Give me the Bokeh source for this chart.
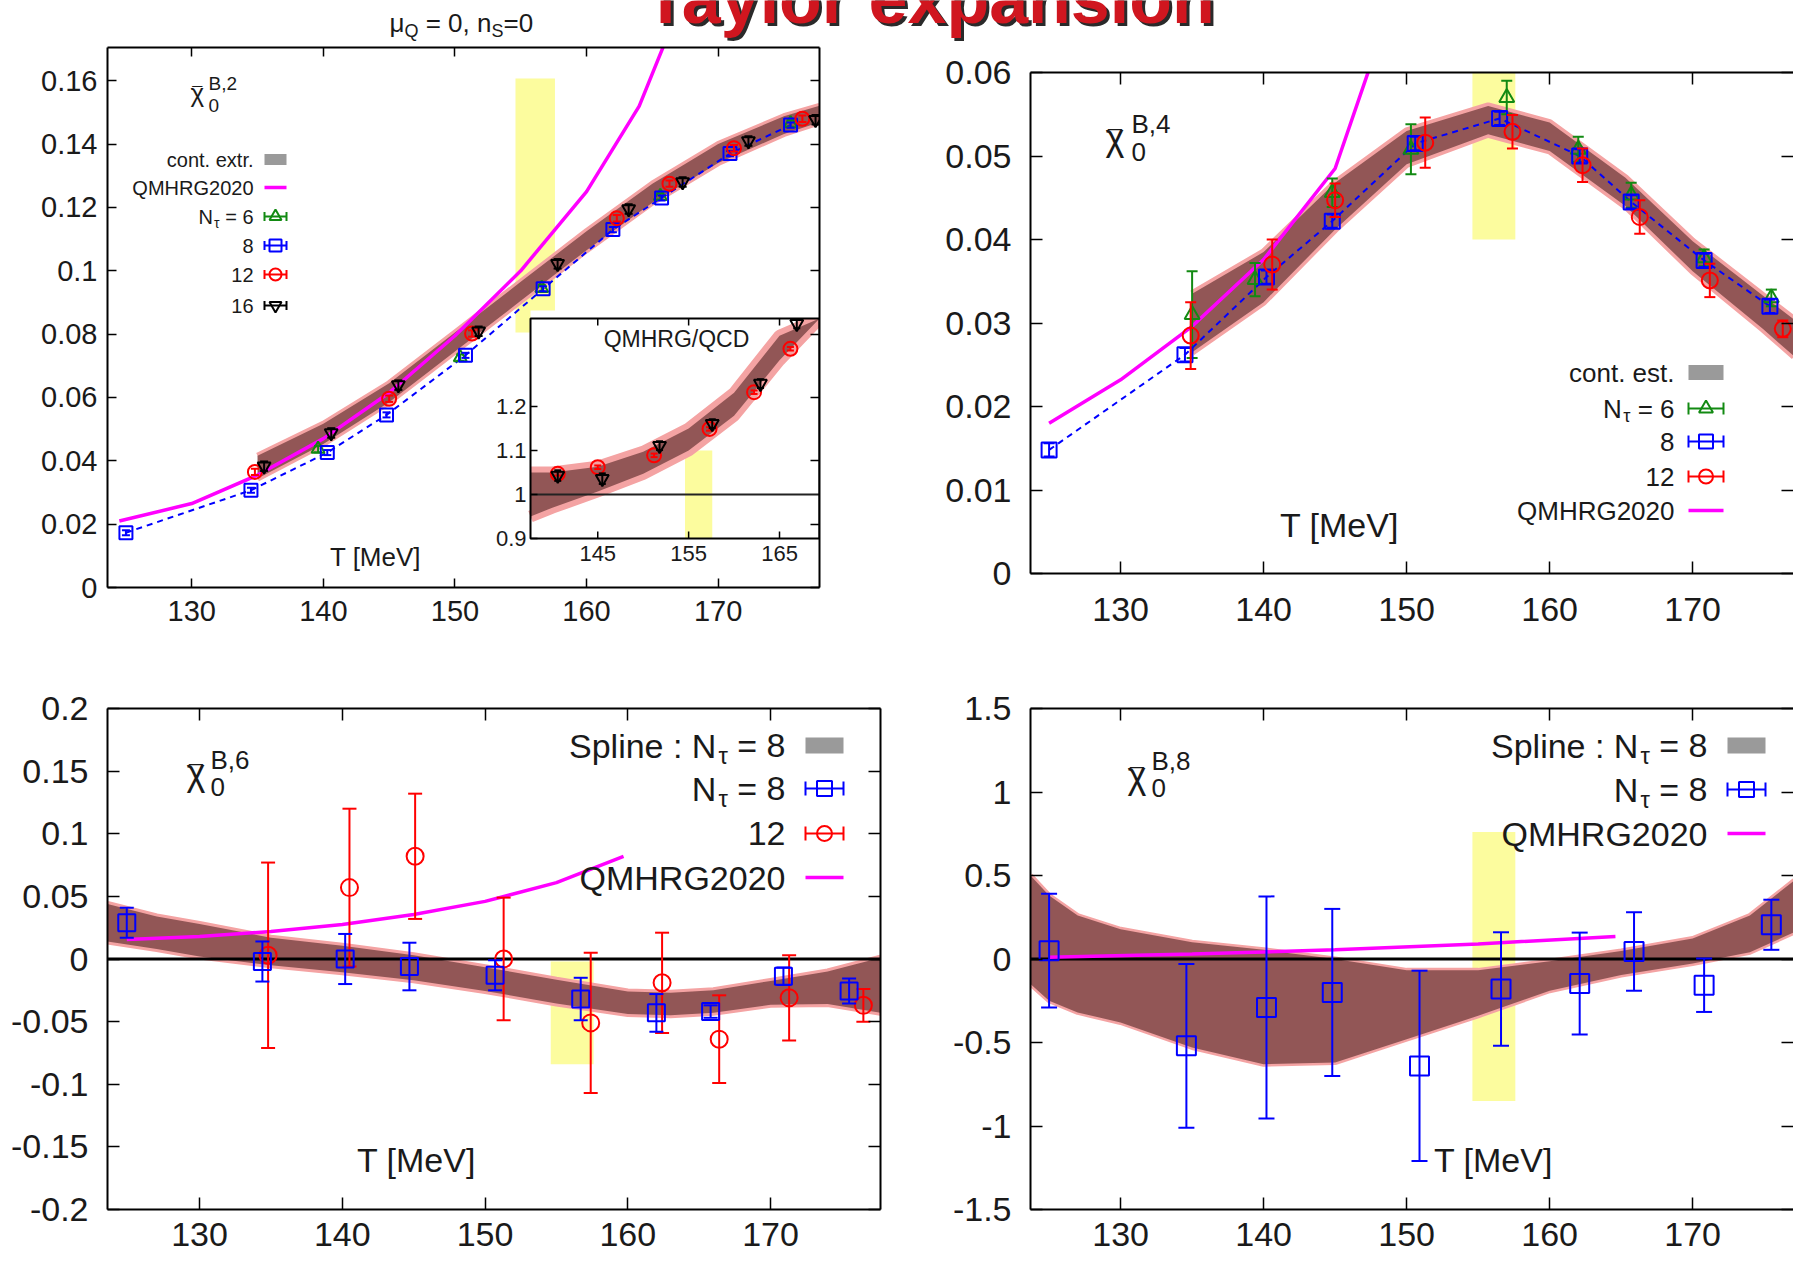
import numpy as np
from bokeh.plotting import figure
from bokeh.models import Range1d, LinearAxis, FixedTicker, Label
from bokeh.layouts import column, row
from bokeh.core.properties import value
from bokeh.embed import file_html
from bokeh.resources import INLINE

FONT = "Liberation Sans"
TXT = "#1a1a1a"
BAND_DARK = "#925656"
BAND_EDGE = "#f4a3a3"
YELLOW = "#fcfc9e"
MAGENTA = "#ff00ff"
BLUE = "#0000ff"
RED = "#ff0000"
GREEN = "#128a12"
BLACK = "#000000"
GRAY = "#9a9a9a"

# ======================= DATA =======================
x_ticks = [130, 140, 150, 160, 170]
x_tick_labels = ["130", "140", "150", "160", "170"]
tpc_band = [154.6, 157.6]

# ---- chi2 (top left) ----
chi2_yticks = [0.0, 0.02, 0.04, 0.06, 0.08, 0.1, 0.12, 0.14, 0.16]
chi2_ylabels = ["0", "0.02", "0.04", "0.06", "0.08", "0.1", "0.12", "0.14", "0.16"]
chi2_yellow = [0.0805, 0.1607]
chi2_t_band = [135, 140, 145, 150, 155, 160, 165, 170, 175, 177.7]
chi2_band_c = [0.038, 0.0485, 0.0615, 0.0775, 0.0935, 0.1095, 0.1245, 0.137, 0.146, 0.1495]
chi2_band_hw = [0.0036, 0.0032, 0.003, 0.003, 0.003, 0.003, 0.003, 0.003, 0.0028, 0.0026]
chi2_t_qm = [124.5, 130, 135, 140, 145, 150, 155, 160, 164, 166]
chi2_qm = [0.021, 0.0265, 0.0355, 0.047, 0.0615, 0.0795, 0.1, 0.125, 0.152, 0.1725]
chi2_t6 = [139.6, 150.4, 156.6, 165.6, 175.5]
chi2_n6 = [0.0437, 0.0726, 0.0945, 0.1235, 0.1465]
chi2_e6 = [0.001, 0.001, 0.001, 0.001, 0.001]
chi2_t8 = [125.0, 134.5, 140.3, 144.8, 150.8, 156.7, 162.0, 165.7, 170.9, 175.5]
chi2_n8 = [0.0173, 0.0307, 0.0426, 0.0545, 0.0733, 0.0943, 0.113, 0.123, 0.137, 0.146]
chi2_e8 = [0.0008, 0.0008, 0.0008, 0.0008, 0.0008, 0.0008, 0.0008, 0.0008, 0.0008, 0.0008]
chi2_t12 = [134.8, 145.0, 151.3, 162.3, 166.3, 171.2, 176.4]
chi2_n12 = [0.0365, 0.0596, 0.0802, 0.1166, 0.1275, 0.1387, 0.148]
chi2_e12 = [0.001, 0.001, 0.001, 0.001, 0.001, 0.001, 0.001]
chi2_t16 = [135.5, 140.6, 145.7, 151.8, 157.8, 163.2, 167.3, 172.3, 177.4]
chi2_n16 = [0.0383, 0.0488, 0.0639, 0.0809, 0.1022, 0.1195, 0.128, 0.141, 0.1477]
chi2_e16 = [0.0015, 0.0015, 0.0015, 0.0015, 0.0015, 0.0015, 0.0015, 0.0015, 0.0015]

# ---- inset: QMHRG/QCD ratio ----
ratio_xticks = [145, 155, 165]
ratio_xlabels = ["145", "155", "165"]
ratio_yticks = [0.9, 1.0, 1.1, 1.2]
ratio_ylabels = ["0.9", "1", "1.1", "1.2"]
ratio_yellow = [0.9, 1.1]
ratio_t_band = [137.6, 140, 145, 150, 155, 160, 165, 169.4]
ratio_band_c = [1.0, 1.01, 1.035, 1.072, 1.125, 1.205, 1.333, 1.49]
ratio_band_hw = [0.05, 0.04, 0.028, 0.025, 0.025, 0.026, 0.028, 0.032]
ratio_t12 = [140.6, 145.0, 151.2, 157.3, 162.2, 166.2]
ratio_r12 = [1.047, 1.062, 1.089, 1.149, 1.2325, 1.331]
ratio_e12 = [0.004, 0.004, 0.004, 0.004, 0.004, 0.004]
ratio_t16 = [140.6, 145.5, 151.8, 157.6, 162.9, 166.9]
ratio_r16 = [1.043, 1.036, 1.111, 1.161, 1.252, 1.388]
ratio_e16 = [0.012, 0.012, 0.01, 0.01, 0.01, 0.01]

# ---- chi4 (top right) ----
chi4_yticks = [0.0, 0.01, 0.02, 0.03, 0.04, 0.05, 0.06]
chi4_ylabels = ["0", "0.01", "0.02", "0.03", "0.04", "0.05", "0.06"]
chi4_yellow = [0.04, 0.06]
chi4_t_band = [135, 140, 145, 150, 155.7, 160, 165.3, 170, 174.9, 177.1]
chi4_band_c = [0.030, 0.0355, 0.044, 0.051, 0.0543, 0.0523, 0.0457, 0.038, 0.0313, 0.0282]
chi4_band_hw = [0.0035, 0.003, 0.0028, 0.002, 0.0017, 0.0017, 0.0017, 0.0018, 0.002, 0.0022]
chi4_t_qm = [125, 130, 135, 140, 145, 147.5]
chi4_qm = [0.018, 0.0232, 0.0296, 0.0376, 0.0485, 0.061]
chi4_t6 = [135.0, 139.4, 144.8, 150.3, 157.0, 162.0, 165.7, 170.8, 175.5]
chi4_n6 = [0.031, 0.0352, 0.0456, 0.0508, 0.057, 0.0508, 0.0453, 0.0378, 0.033]
chi4_e6 = [0.0052, 0.002, 0.0017, 0.003, 0.002, 0.0015, 0.0015, 0.001, 0.001]
chi4_t8 = [125.0, 134.5, 140.2, 144.8, 150.6, 156.5, 162.1, 165.7, 170.8, 175.4]
chi4_n8 = [0.0148, 0.0262, 0.0355, 0.0422, 0.0515, 0.0545, 0.050, 0.0445, 0.0375, 0.032]
chi4_e8 = [0.0008, 0.0008, 0.0008, 0.0008, 0.0008, 0.0008, 0.0008, 0.0008, 0.0008, 0.0008]
chi4_t12 = [134.9, 140.6, 145.0, 151.3, 157.4, 162.3, 166.3, 171.2, 176.3]
chi4_n12 = [0.0285, 0.037, 0.0447, 0.0516, 0.0529, 0.0489, 0.0427, 0.0351, 0.0293]
chi4_e12 = [0.004, 0.003, 0.002, 0.003, 0.002, 0.002, 0.002, 0.002, 0.001]

# ---- chi6 (bottom left) ----
chi6_yticks = [-0.2, -0.15, -0.1, -0.05, 0.0, 0.05, 0.1, 0.15, 0.2]
chi6_ylabels = ["-0.2", "-0.15", "-0.1", "-0.05", "0", "0.05", "0.1", "0.15", "0.2"]
chi6_yellow = [-0.084, -0.002]
chi6_t_band = [123.55, 127, 130, 135, 140, 145, 150, 155, 160, 163, 166, 170, 174, 177.7]
chi6_band_c = [0.029, 0.021, 0.015, 0.006, 0.0, -0.007, -0.016, -0.026, -0.035, -0.036, -0.034, -0.027, -0.023, -0.021]
chi6_band_hw = [0.015, 0.013, 0.013, 0.011, 0.0105, 0.01, 0.0095, 0.0095, 0.009, 0.009, 0.009, 0.0095, 0.013, 0.022]
chi6_t_qm = [124.9, 130, 135, 140, 145, 150, 155, 159.7]
chi6_qm = [0.0155, 0.018, 0.022, 0.0275, 0.0355, 0.046, 0.061, 0.082]
chi6_t8 = [124.9, 134.4, 140.2, 144.7, 150.7, 156.7, 162.0, 165.8, 170.9, 175.5]
chi6_n8 = [0.029, -0.002, 0.0, -0.006, -0.013, -0.032, -0.043, -0.042, -0.0137, -0.0256]
chi6_e8 = [0.012, 0.016, 0.02, 0.019, 0.012, 0.017, 0.015, 0.005, 0.007, 0.01]
chi6_t12 = [134.8, 140.5, 145.1, 151.3, 157.4, 162.4, 166.4, 171.3, 176.5]
chi6_n12 = [0.003, 0.057, 0.082, 0.0, -0.051, -0.019, -0.064, -0.031, -0.037]
chi6_e12 = [0.074, 0.063, 0.05, 0.049, 0.056, 0.04, 0.035, 0.034, 0.013]

# ---- chi8 (bottom right) ----
chi8_yticks = [-1.5, -1.0, -0.5, 0.0, 0.5, 1.0, 1.5]
chi8_ylabels = ["-1.5", "-1", "-0.5", "0", "0.5", "1", "1.5"]
chi8_yellow = [-0.85, 0.76]
chi8_t_band = [123.7, 125, 127, 130, 135, 140, 145, 150, 155, 160, 165, 170, 174, 177.1]
chi8_band_hi = [0.50, 0.38, 0.26, 0.178, 0.10, 0.055, 0.0, -0.068, -0.068, -0.014, 0.048, 0.123, 0.26, 0.47]
chi8_band_lo = [-0.15, -0.25, -0.32, -0.38, -0.53, -0.63, -0.62, -0.48, -0.34, -0.19, -0.096, -0.027, 0.04, 0.16]
chi8_t_qm = [125, 135, 145, 155, 164.6]
chi8_qm = [0.01, 0.03, 0.055, 0.09, 0.135]
chi8_t8 = [125.0, 134.6, 140.2, 144.8, 150.9, 156.6, 162.1, 165.9, 170.8, 175.5]
chi8_n8 = [0.05, -0.52, -0.29, -0.2, -0.64, -0.18, -0.147, 0.045, -0.157, 0.205]
chi8_e8 = [0.34, 0.49, 0.665, 0.50, 0.57, 0.34, 0.305, 0.235, 0.16, 0.15]

# ======================= HELPERS =======================
AW = {' ': 278, ',': 278, '.': 278, ':': 278, '=': 584, '/': 278, '[': 278, ']': 278, '-': 333,
      'A': 667, 'B': 667, 'C': 722, 'D': 722, 'G': 778, 'H': 722, 'M': 833, 'N': 722, 'Q': 778,
      'R': 722, 'S': 667, 'T': 611, 'V': 667, 'a': 556, 'c': 500, 'e': 556, 'i': 222, 'l': 222,
      'n': 556, 'o': 556, 'p': 556, 'r': 333, 's': 500, 't': 278, 'x': 500, 'y': 500,
      'μ': 576, 'τ': 480, 'χ': 520}
MID = 0.35  # distance from alphabetic baseline up to the "middle" anchor, in font sizes


def tw(s, size):
    return sum(AW.get(c, 556) for c in s) * size / 1000.0


class Panel:
    def __init__(self, w, h, ox, oy, fl, fr, ft, fb, xr, yr):
        self.fl, self.fr, self.ft, self.fb = fl, fr, ft, fb
        self.xr, self.yr = xr, yr
        p = figure(width=w, height=h, x_range=Range1d(*xr), y_range=Range1d(*yr),
                   output_backend="svg", toolbar_location=None, tools="",
                   x_axis_location=None, y_axis_location=None,
                   min_border_left=fl - ox, min_border_right=ox + w - fr,
                   min_border_top=ft - oy, min_border_bottom=oy + h - fb)
        p.frame_align = False
        p.outline_line_color = None
        p.grid.visible = False
        p.background_fill_color = "white"
        p.border_fill_color = "white"
        self.p = p

    def X(self, px):
        return self.xr[0] + (px - self.fl) / (self.fr - self.fl) * (self.xr[1] - self.xr[0])

    def Y(self, py):
        return self.yr[0] + (self.fb - py) / (self.fb - self.ft) * (self.yr[1] - self.yr[0])

    def axes(self, xt, xl, yt, yl, font_px, tick_len, xs_off, ys_off, right_line=True):
        def mk(ticks, labels, show, standoff):
            ax = LinearAxis(ticker=FixedTicker(ticks=list(ticks)),
                            major_tick_in=tick_len, major_tick_out=0,
                            minor_tick_in=0, minor_tick_out=0,
                            axis_line_color="black", axis_line_width=2,
                            major_tick_line_color="black", major_tick_line_width=1.5,
                            major_label_standoff=standoff if show else 0)
            if show:
                ax.major_label_overrides = {float(t): s for t, s in zip(ticks, labels)}
                ax.major_label_text_font = FONT
                ax.major_label_text_font_size = f"{font_px}px"
                ax.major_label_text_color = TXT
            else:
                ax.major_label_overrides = {float(t): "" for t in ticks}
                ax.major_label_text_font_size = "0px"
            return ax
        self.p.add_layout(mk(xt, xl, True, xs_off), "below")
        self.p.add_layout(mk(xt, xl, False, 0), "above")
        self.p.add_layout(mk(yt, yl, True, ys_off), "left")
        r = mk(yt, yl, False, 0)
        if not right_line:
            r.axis_line_color = None
        self.p.add_layout(r, "right")

    def yellow(self, yext, **kw):
        self.p.quad(left=[tpc_band[0]], right=[tpc_band[1]], bottom=[yext[0]], top=[yext[1]],
                    fill_color=YELLOW, line_color=None, **kw)

    def band(self, T, lo, hi, edge_w, **kw):
        self.p.line(T, hi, line_color=BAND_EDGE, line_width=edge_w, **kw)
        self.p.line(T, lo, line_color=BAND_EDGE, line_width=edge_w, **kw)
        self.p.varea(x=T, y1=lo, y2=hi, fill_color=BAND_DARK, **kw)

    def pts(self, T, y, err, color, marker, size, cap, lw=2, **kw):
        lo = [a - e for a, e in zip(y, err)]
        hi = [a + e for a, e in zip(y, err)]
        self.p.segment(T, lo, T, hi, line_color=color, line_width=lw, **kw)
        self.p.scatter(T, lo, marker="dash", size=cap, line_color=color, line_width=lw, **kw)
        self.p.scatter(T, hi, marker="dash", size=cap, line_color=color, line_width=lw, **kw)
        self.p.scatter(T, y, marker=marker, size=size, line_color=color, fill_color=None,
                       line_width=lw, **kw)

    def label(self, px, py, text, size, align="left", color=TXT):
        # py is the vertical middle of the text
        self.p.add_layout(Label(x=self.X(px), y=self.Y(py), text=text, text_font=FONT,
                                text_font_size=f"{size:.1f}px", text_align=align,
                                text_baseline="middle", text_color=color))

    def label_b(self, px, base, text, size, align="left"):
        # base is the alphabetic baseline
        self.label(px, base - MID * size, text, size, align=align)

    def rtext(self, xr, y, parts, size):
        # parts: (text, kind) with kind "n" normal, "sub" subscript, "sp" a space
        x = xr
        for text, kind in reversed(parts):
            if kind == "sp":
                x -= tw(" ", size)
                continue
            fs = size * 0.7 if kind == "sub" else size
            yy = y + size * 0.3 if kind == "sub" else y
            self.label(x, yy, text, fs, align="right")
            x -= tw(text, fs)

    def key_box(self, x0, x1, y, h):
        self.p.quad(left=[self.X(x0)], right=[self.X(x1)], bottom=[self.Y(y + h / 2)],
                    top=[self.Y(y - h / 2)], fill_color=GRAY, line_color=None)

    def key_line(self, x0, x1, y, color, w):
        self.p.segment([self.X(x0)], [self.Y(y)], [self.X(x1)], [self.Y(y)],
                       line_color=color, line_width=w)

    def key_err(self, x0, x1, y, color, marker, size, cap):
        X0, X1, Yc = self.X(x0), self.X(x1), self.Y(y)
        self.p.segment([X0], [Yc], [X1], [Yc], line_color=color, line_width=2)
        self.p.segment([X0, X1], [self.Y(y - cap / 2)] * 2, [X0, X1], [self.Y(y + cap / 2)] * 2,
                       line_color=color, line_width=2)
        self.p.scatter([(X0 + X1) / 2], [Yc], marker=marker, size=size, line_color=color,
                       fill_color=None, line_width=2)

    def chi(self, x, base, big, xs, bsup, bsub, small, sup):
        self.label_b(x, base, "\u03c7", big)
        self.label_b(x + tw("χ", big) / 2, base - 2, "\u00af", big * 0.7, align="center")
        self.label_b(xs, bsup, sup, small)
        self.label_b(xs, bsub, "0", small)


def zero_line(panel):
    panel.p.line(x=list(panel.xr), y=[0, 0], line_color="black", line_width=3)


def Nt(n):
    return [("N", "n"), ("τ", "sub"), ("", "sp"), ("=", "n"), ("", "sp"), (n, "n")]


# ======================= TITLE STRIP =======================
W_ALL = 1793
H_T = 42
tf = figure(width=W_ALL, height=H_T, x_range=Range1d(0, W_ALL), y_range=Range1d(0, H_T),
            output_backend="svg", toolbar_location=None, tools="",
            x_axis_location=None, y_axis_location=None, min_border=0)
tf.frame_align = False
tf.outline_line_color = None
tf.grid.visible = False
tf.background_fill_color = "white"
tf.border_fill_color = "white"


def tlabel(px, base, text, size, color=TXT, bold=False, align="left"):
    tf.add_layout(Label(x=px, y=H_T - (base - MID * size), text=text, text_font=FONT,
                        text_font_size=f"{size:.1f}px",
                        text_font_style="bold" if bold else "normal",
                        text_color=color, text_align=align, text_baseline="middle"))


tlabel(932, 26, "Taylor expansion", 70, color="#2a2a2a", bold=True, align="center")
tlabel(929, 23, "Taylor expansion", 70, color="#d0161f", bold=True, align="center")
xx = 389
for txt, kind in [("μ", "n"), ("Q", "sub"), ("", "sp"), ("=", "n"), ("", "sp"), ("0,", "n"),
                  ("", "sp"), ("n", "n"), ("S", "sub"), ("=0", "n")]:
    fs = 18 if kind == "sub" else 26
    if kind == "sp":
        xx += tw(" ", 26)
        continue
    tlabel(xx, 32 + (5 if kind == "sub" else 0), txt, fs)
    xx += tw(txt, fs)

# ======================= TOP LEFT: chi2 =======================
R1 = 640 - H_T
tl = Panel(888, R1, 0, H_T, 107, 819, 47, 587, (123.6, 177.7), (0.0, 0.1705))
tl.axes(x_ticks, x_tick_labels, chi2_yticks, chi2_ylabels, 29, 9, 13, 10)
tl.yellow(chi2_yellow)
tl.band(chi2_t_band, [c - h for c, h in zip(chi2_band_c, chi2_band_hw)],
        [c + h for c, h in zip(chi2_band_c, chi2_band_hw)], 6)
tl.p.line(chi2_t8, chi2_n8, line_color=BLUE, line_width=2, line_dash="6 5")
tl.p.line(chi2_t_qm, chi2_qm, line_color=MAGENTA, line_width=3.5)
tl.pts(chi2_t6, chi2_n6, chi2_e6, GREEN, "triangle", 13, 8)
tl.pts(chi2_t8, chi2_n8, chi2_e8, BLUE, "square", 13, 8)
tl.pts(chi2_t12, chi2_n12, chi2_e12, RED, "circle", 14, 8)
tl.pts(chi2_t16, chi2_n16, chi2_e16, BLACK, "inverted_triangle", 13, 8)

# inset mapped onto part of the frame through extra ranges
IN_L, IN_R, IN_T, IN_B = 530, 819, 318, 538
ix0, ix1, iy0, iy1 = 137.6, 169.4, 0.9, 1.4
sx = (IN_R - IN_L) / (ix1 - ix0)
sy = (IN_B - IN_T) / (iy1 - iy0)
tl.p.extra_x_ranges = {"inset": Range1d(ix0 - (IN_L - tl.fl) / sx, ix1 + (tl.fr - IN_R) / sx)}
tl.p.extra_y_ranges = {"inset": Range1d(iy0 - (tl.fb - IN_B) / sy, iy1 + (IN_T - tl.ft) / sy)}
IK = dict(x_range_name="inset", y_range_name="inset")
tl.p.quad(left=[ix0], right=[ix1], bottom=[iy0], top=[iy1], fill_color="white", line_color=None, **IK)
tl.p.quad(left=[tpc_band[0]], right=[tpc_band[1]], bottom=[ratio_yellow[0]], top=[ratio_yellow[1]],
          fill_color=YELLOW, line_color=None, **IK)
rlo = list(np.minimum([c - h for c, h in zip(ratio_band_c, ratio_band_hw)], iy1))
rhi = list(np.minimum([c + h for c, h in zip(ratio_band_c, ratio_band_hw)], iy1))
tl.band(ratio_t_band, rlo, rhi, 12, **IK)
tl.p.quad(left=[ix0], right=[ix1], bottom=[iy1], top=[iy1 + 8 / sy], fill_color="white",
          line_color=None, **IK)
tl.p.segment([ix0], [1.0], [ix1], [1.0], line_color="#222222", line_width=2, **IK)
tl.pts(ratio_t12, ratio_r12, ratio_e12, RED, "circle", 14, 7, **IK)
tl.pts(ratio_t16, ratio_r16, ratio_e16, BLACK, "inverted_triangle", 13, 7, **IK)
tl.p.quad(left=[ix0], right=[ix1], bottom=[iy0], top=[iy1], fill_color=None, line_color="black",
          line_width=2, **IK)
tk = 7
tl.p.segment(ratio_xticks, [iy0] * 3, ratio_xticks, [iy0 + tk / sy] * 3, line_color="black",
             line_width=1.5, **IK)
tl.p.segment(ratio_xticks, [iy1] * 3, ratio_xticks, [iy1 - tk / sy] * 3, line_color="black",
             line_width=1.5, **IK)
tl.p.segment([ix0] * 4, ratio_yticks, [ix0 + tk / sx] * 4, ratio_yticks, line_color="black",
             line_width=1.5, **IK)
tl.p.text(x=ratio_xticks, y=[iy0] * 3, text=ratio_xlabels, text_font=value(FONT),
          text_font_size=value("22px"), text_align="center", text_baseline="middle",
          y_offset=15, text_color=TXT, **IK)
tl.p.text(x=[ix0] * 4, y=ratio_yticks, text=ratio_ylabels, text_font=value(FONT),
          text_font_size=value("22px"), text_align="right", text_baseline="middle",
          x_offset=-4, text_color=TXT, **IK)
tl.label(676, 338, "QMHRG/QCD", 23, align="center")

tl.chi(190, 102, 26, 208, 90, 112, 19, "B,2")
tl.label(375, 556, "T [MeV]", 26, align="center")
rows = [159, 187, 216, 245, 274, 305]
tl.rtext(253, rows[0], [("cont. extr.", "n")], 20)
tl.key_box(264, 286, rows[0], 11)
tl.rtext(253, rows[1], [("QMHRG2020", "n")], 20)
tl.key_line(264, 286, rows[1], MAGENTA, 3.5)
tl.rtext(253, rows[2], Nt("6"), 20)
tl.key_err(264, 286, rows[2], GREEN, "triangle", 12, 9)
tl.rtext(253, rows[3], [("8", "n")], 20)
tl.key_err(264, 286, rows[3], BLUE, "square", 12, 9)
tl.rtext(253, rows[4], [("12", "n")], 20)
tl.key_err(264, 286, rows[4], RED, "circle", 12, 9)
tl.rtext(253, rows[5], [("16", "n")], 20)
tl.key_err(264, 286, rows[5], BLACK, "inverted_triangle", 12, 9)

# ======================= TOP RIGHT: chi4 =======================
tr = Panel(W_ALL - 888, R1, 888, H_T, 1030, W_ALL, 72, 573, (123.7, 177.05), (0.0, 0.06))
tr.axes(x_ticks, x_tick_labels, chi4_yticks, chi4_ylabels, 34, 12, 24, 19, right_line=False)
tr.yellow(chi4_yellow)
tr.band(chi4_t_band, [c - h for c, h in zip(chi4_band_c, chi4_band_hw)],
        [c + h for c, h in zip(chi4_band_c, chi4_band_hw)], 7)
tr.p.line(chi4_t8, chi4_n8, line_color=BLUE, line_width=2, line_dash="6 5")
tr.p.line(chi4_t_qm, chi4_qm, line_color=MAGENTA, line_width=3.5)
tr.pts(chi4_t6, chi4_n6, chi4_e6, GREEN, "triangle", 15, 11)
tr.pts(chi4_t8, chi4_n8, chi4_e8, BLUE, "square", 15, 11)
tr.pts(chi4_t12, chi4_n12, chi4_e12, RED, "circle", 16, 11)
tr.chi(1105, 150, 36, 1131, 133, 161, 26, "B,4")
tr.label(1339, 524, "T [MeV]", 34, align="center")
rows = [372, 408, 441, 476, 510]
tr.rtext(1674, rows[0], [("cont. est.", "n")], 26)
tr.key_box(1688, 1723, rows[0], 15)
tr.rtext(1674, rows[1], Nt("6"), 26)
tr.key_err(1688, 1723, rows[1], GREEN, "triangle", 14, 12)
tr.rtext(1674, rows[2], [("8", "n")], 26)
tr.key_err(1688, 1723, rows[2], BLUE, "square", 14, 12)
tr.rtext(1674, rows[3], [("12", "n")], 26)
tr.key_err(1688, 1723, rows[3], RED, "circle", 14, 12)
tr.rtext(1674, rows[4], [("QMHRG2020", "n")], 26)
tr.key_line(1688, 1723, rows[4], MAGENTA, 3.5)

# ======================= BOTTOM LEFT: chi6 =======================
H2 = 1261 - 640
bl = Panel(888, H2, 0, 640, 107, 880, 708, 1209, (123.55, 177.7), (-0.2, 0.2))
bl.axes(x_ticks, x_tick_labels, chi6_yticks, chi6_ylabels, 34, 12, 13, 19)
bl.yellow(chi6_yellow)
bl.band(chi6_t_band, [c - h for c, h in zip(chi6_band_c, chi6_band_hw)],
        [c + h for c, h in zip(chi6_band_c, chi6_band_hw)], 6)
zero_line(bl)
bl.p.line(chi6_t_qm, chi6_qm, line_color=MAGENTA, line_width=3.5)
bl.pts(chi6_t12, chi6_n12, chi6_e12, RED, "circle", 17, 14)
bl.pts(chi6_t8, chi6_n8, chi6_e8, BLUE, "square", 17, 14)
bl.chi(186, 785, 36, 210, 769, 796, 26, "B,6")
bl.label(416, 1159, "T [MeV]", 34, align="center")
rows = [745, 788, 833, 877]
bl.rtext(785, rows[0], [("Spline : N", "n"), ("τ", "sub"), ("", "sp"), ("=", "n"), ("", "sp"), ("8", "n")], 34)
bl.key_box(805, 843, rows[0], 16)
bl.rtext(785, rows[1], Nt("8"), 34)
bl.key_err(805, 843, rows[1], BLUE, "square", 15, 14)
bl.rtext(785, rows[2], [("12", "n")], 34)
bl.key_err(805, 843, rows[2], RED, "circle", 15, 14)
bl.rtext(785, rows[3], [("QMHRG2020", "n")], 34)
bl.key_line(805, 843, rows[3], MAGENTA, 3.5)

# ======================= BOTTOM RIGHT: chi8 =======================
br = Panel(W_ALL - 888, H2, 888, 640, 1030, W_ALL, 708, 1209, (123.7, 177.05), (-1.5, 1.5))
br.axes(x_ticks, x_tick_labels, chi8_yticks, chi8_ylabels, 34, 12, 13, 19, right_line=False)
br.yellow(chi8_yellow)
br.band(chi8_t_band, chi8_band_lo, chi8_band_hi, 5)
zero_line(br)
br.p.line(chi8_t_qm, chi8_qm, line_color=MAGENTA, line_width=3.5)
br.pts(chi8_t8, chi8_n8, chi8_e8, BLUE, "square", 19, 16)
br.chi(1127, 788, 36, 1151, 770, 797, 26, "B,8")
br.label(1493, 1159, "T [MeV]", 34, align="center")
rows = [745, 789, 833]
br.rtext(1707, rows[0], [("Spline : N", "n"), ("τ", "sub"), ("", "sp"), ("=", "n"), ("", "sp"), ("8", "n")], 34)
br.key_box(1727, 1765, rows[0], 16)
br.rtext(1707, rows[1], Nt("8"), 34)
br.key_err(1727, 1765, rows[1], BLUE, "square", 15, 14)
br.rtext(1707, rows[2], [("QMHRG2020", "n")], 34)
br.key_line(1727, 1765, rows[2], MAGENTA, 3.5)

layout = column(tf, row(tl.p, tr.p), row(bl.p, br.p))
open("out.html", "w").write(file_html(layout, INLINE))
